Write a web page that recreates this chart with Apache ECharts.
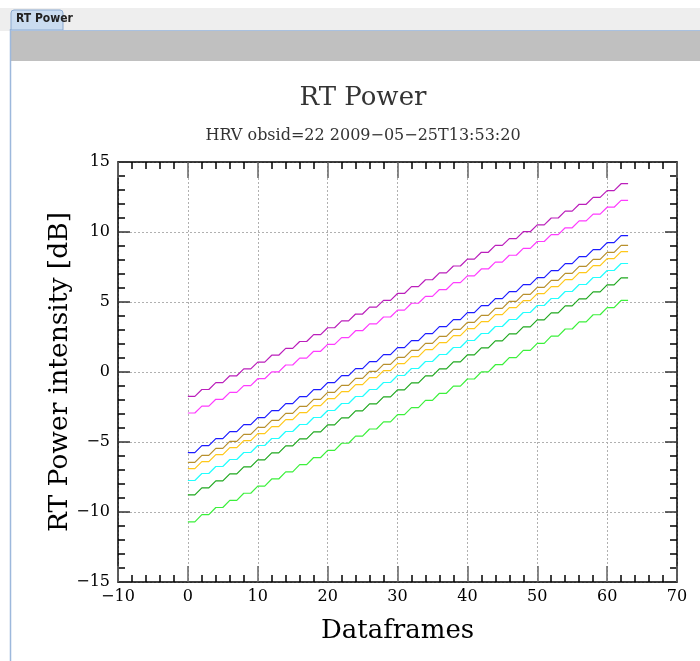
<!DOCTYPE html>
<html>
<head>
<meta charset="utf-8">
<script src="https://cdn.jsdelivr.net/npm/echarts@6/dist/echarts.min.js"></script>
<style>
html,body{margin:0;padding:0;background:#fff;}
#main{width:700px;height:661px;}
</style>
</head>
<body>
<div id="main"></div>
<script>
// dataframe index (x)
var frames = [0,1,2,3,4,5,6,7,8,9,10,11,12,13,14,15,16,17,18,19,20,21,22,23,24,25,26,27,28,29,30,31,
  32,33,34,35,36,37,38,39,40,41,42,43,44,45,46,47,48,49,50,51,52,53,54,55,56,57,58,59,60,61,62,63];

// RT power per channel [dB]
var chMagenta = [-1.74,-1.74,-1.25,-1.25,-0.76,-0.76,-0.27,-0.27,0.22,0.22,0.71,0.71,1.20,1.20,1.69,1.69,
  2.18,2.18,2.67,2.67,3.16,3.16,3.65,3.65,4.14,4.14,4.63,4.63,5.12,5.12,5.61,5.61,
  6.10,6.10,6.59,6.59,7.08,7.08,7.57,7.57,8.06,8.06,8.55,8.55,9.04,9.04,9.53,9.53,
  10.02,10.02,10.51,10.51,11.00,11.00,11.49,11.49,11.98,11.98,12.47,12.47,12.96,12.96,13.45,13.45];
var chPink = [-2.93,-2.93,-2.44,-2.44,-1.95,-1.95,-1.46,-1.46,-0.97,-0.97,-0.48,-0.48,0.01,0.01,0.50,0.50,
  0.99,0.99,1.48,1.48,1.97,1.97,2.46,2.46,2.95,2.95,3.44,3.44,3.93,3.93,4.42,4.42,
  4.91,4.91,5.40,5.40,5.89,5.89,6.38,6.38,6.87,6.87,7.36,7.36,7.85,7.85,8.34,8.34,
  8.83,8.83,9.32,9.32,9.81,9.81,10.30,10.30,10.79,10.79,11.28,11.28,11.77,11.77,12.26,12.26];
var chBlue = [-5.76,-5.76,-5.26,-5.26,-4.76,-4.76,-4.26,-4.26,-3.76,-3.76,-3.26,-3.26,-2.76,-2.76,-2.26,-2.26,
  -1.76,-1.76,-1.26,-1.26,-0.76,-0.76,-0.26,-0.26,0.24,0.24,0.74,0.74,1.24,1.24,1.74,1.74,
  2.24,2.24,2.74,2.74,3.24,3.24,3.74,3.74,4.24,4.24,4.74,4.74,5.24,5.24,5.74,5.74,
  6.24,6.24,6.74,6.74,7.24,7.24,7.74,7.74,8.24,8.24,8.74,8.74,9.24,9.24,9.74,9.74];
var chBrown = [-6.45,-6.45,-5.95,-5.95,-5.45,-5.45,-4.95,-4.95,-4.45,-4.45,-3.95,-3.95,-3.45,-3.45,-2.95,-2.95,
  -2.45,-2.45,-1.95,-1.95,-1.45,-1.45,-0.95,-0.95,-0.45,-0.45,0.05,0.05,0.55,0.55,1.05,1.05,
  1.55,1.55,2.05,2.05,2.55,2.55,3.05,3.05,3.55,3.55,4.05,4.05,4.55,4.55,5.05,5.05,
  5.55,5.55,6.05,6.05,6.55,6.55,7.05,7.05,7.55,7.55,8.05,8.05,8.55,8.55,9.05,9.05];
var chOrange = [-6.9,-6.9,-6.4,-6.4,-5.9,-5.9,-5.4,-5.4,-4.9,-4.9,-4.4,-4.4,-3.9,-3.9,-3.4,-3.4,
  -2.9,-2.9,-2.4,-2.4,-1.9,-1.9,-1.4,-1.4,-0.9,-0.9,-0.4,-0.4,0.1,0.1,0.6,0.6,
  1.1,1.1,1.6,1.6,2.1,2.1,2.6,2.6,3.1,3.1,3.6,3.6,4.1,4.1,4.6,4.6,
  5.1,5.1,5.6,5.6,6.1,6.1,6.6,6.6,7.1,7.1,7.6,7.6,8.1,8.1,8.6,8.6];
var chCyan = [-7.75,-7.75,-7.25,-7.25,-6.75,-6.75,-6.25,-6.25,-5.75,-5.75,-5.25,-5.25,-4.75,-4.75,-4.25,-4.25,
  -3.75,-3.75,-3.25,-3.25,-2.75,-2.75,-2.25,-2.25,-1.75,-1.75,-1.25,-1.25,-0.75,-0.75,-0.25,-0.25,
  0.25,0.25,0.75,0.75,1.25,1.25,1.75,1.75,2.25,2.25,2.75,2.75,3.25,3.25,3.75,3.75,
  4.25,4.25,4.75,4.75,5.25,5.25,5.75,5.75,6.25,6.25,6.75,6.75,7.25,7.25,7.75,7.75];
var chDarkGreen = [-8.78,-8.78,-8.28,-8.28,-7.78,-7.78,-7.28,-7.28,-6.78,-6.78,-6.28,-6.28,-5.78,-5.78,-5.28,-5.28,
  -4.78,-4.78,-4.28,-4.28,-3.78,-3.78,-3.28,-3.28,-2.78,-2.78,-2.28,-2.28,-1.78,-1.78,-1.28,-1.28,
  -0.78,-0.78,-0.28,-0.28,0.22,0.22,0.72,0.72,1.22,1.22,1.72,1.72,2.22,2.22,2.72,2.72,
  3.22,3.22,3.72,3.72,4.22,4.22,4.72,4.72,5.22,5.22,5.72,5.72,6.22,6.22,6.72,6.72];
var chGreen = [-10.70,-10.70,-10.19,-10.19,-9.68,-9.68,-9.17,-9.17,-8.66,-8.66,-8.15,-8.15,-7.64,-7.64,-7.13,-7.13,
  -6.62,-6.62,-6.11,-6.11,-5.60,-5.60,-5.09,-5.09,-4.58,-4.58,-4.07,-4.07,-3.56,-3.56,-3.05,-3.05,
  -2.54,-2.54,-2.03,-2.03,-1.52,-1.52,-1.01,-1.01,-0.50,-0.50,0.01,0.01,0.52,0.52,1.03,1.03,
  1.54,1.54,2.05,2.05,2.56,2.56,3.07,3.07,3.58,3.58,4.09,4.09,4.60,4.60,5.11,5.11];

var channels = [chMagenta, chPink, chBlue, chBrown, chOrange, chCyan, chDarkGreen, chGreen];
var colors = ['#bb1fbb','#ff3cff','#1c1cff','#b8902c','#ffc81a','#22ffff','#1fa81f','#3cf03c'];

var SERIF = '"DejaVu Serif", serif';

function minusFmt(v){
  return String(v).replace('-', '\u2212');
}

var chart = echarts.init(document.getElementById('main'));

var seriesList = [];
for (var i = 0; i < channels.length; i++) {
  var pts = [];
  for (var j = 0; j < frames.length; j++) {
    pts.push([frames[j], channels[i][j]]);
  }
  seriesList.push({
    type: 'line',
    xAxisIndex: 0,
    yAxisIndex: 0,
    data: pts,
    showSymbol: false,
    lineStyle: {width: 1.2, color: colors[i]},
    z: 5
  });
}

// axes: bottom/left with labels, top/right mirrored ticks only
function xAx(pos, labels){
  return {
    type: 'value', position: pos, min: -10, max: 70, interval: 10,
    axisLine: {show: true, onZero: false, lineStyle: {color: '#000', width: 1.5}},
    axisTick: {show: true, inside: true, length: 16, lineStyle: {color: '#666', width: 1.5}},
    minorTick: {show: true, splitNumber: 5, length: 7, lineStyle: {color: '#000', width: 1.5}},
    axisLabel: {show: labels, formatter: minusFmt, color: '#000', fontFamily: SERIF, fontSize: 16, margin: 7},
    splitLine: {show: labels, lineStyle: {color: '#b0b0b0', type: [2, 2], width: 1}},
    name: labels ? 'Dataframes' : '',
    nameLocation: 'middle', nameGap: 36,
    nameTextStyle: {fontFamily: SERIF, fontSize: 26, color: '#000'}
  };
}
function yAx(pos, labels){
  return {
    type: 'value', position: pos, min: -15, max: 15, interval: 5,
    axisLine: {show: true, onZero: false, lineStyle: {color: '#000', width: 1.5}},
    axisTick: {show: true, inside: true, length: 12, lineStyle: {color: '#333', width: 1.5}},
    minorTick: {show: true, splitNumber: 5, length: 7, lineStyle: {color: '#000', width: 1.5}},
    axisLabel: {show: labels, formatter: minusFmt, color: '#000', fontFamily: SERIF, fontSize: 16, margin: 8},
    splitLine: {show: labels, lineStyle: {color: '#b0b0b0', type: [2, 2], width: 1}},
    name: labels ? 'RT Power intensity [dB]' : '',
    nameLocation: 'middle', nameGap: 44, nameMoveOverlap: false,
    nameTextStyle: {fontFamily: SERIF, fontSize: 26.5, color: '#000'}
  };
}

var option = {
  animation: false,
  backgroundColor: '#fff',
  title: [{
    text: 'RT Power', left: 358, top: 80, textAlign: 'center',
    textStyle: {fontFamily: SERIF, fontSize: 26, fontWeight: 'normal', color: '#333'}
  }, {
    text: 'HRV obsid=22 2009\u221205\u221225T13:53:20', left: 358, top: 123, textAlign: 'center',
    textStyle: {fontFamily: SERIF, fontSize: 16, fontWeight: 'normal', color: '#333'}
  }],
  grid: {left: 118, right: 23, top: 162, bottom: 79, containLabel: false},
  xAxis: [xAx('bottom', true), xAx('top', false)],
  yAxis: [yAx('left', true), yAx('right', false)],
  graphic: [
    {type: 'rect', shape: {x: 0, y: 8, width: 700, height: 23}, style: {fill: '#eeeeee'}, z: 100},
    {type: 'rect', shape: {x: 11, y: 10, width: 52, height: 20, r: [3, 3, 0, 0]},
      style: {fill: '#cadcf0', stroke: '#8ba9cf', lineWidth: 1}, z: 101},
    {type: 'text', x: 16, y: 13, style: {text: 'RT Power', font: 'bold 12px "DejaVu Sans Condensed", "DejaVu Sans", sans-serif', fill: '#222'}, z: 102},
    {type: 'rect', shape: {x: 11, y: 30, width: 689, height: 31}, style: {fill: '#c0c0c0'}, z: 100},
    {type: 'line', shape: {x1: 10.5, y1: 29, x2: 10.5, y2: 661}, style: {stroke: '#9db8dc', lineWidth: 1.5}, z: 100},
    {type: 'line', shape: {x1: 11, y1: 30.5, x2: 700, y2: 30.5}, style: {stroke: '#a9c1e0', lineWidth: 1}, z: 101}
  ],
  series: seriesList
};

chart.setOption(option);
</script>
</body>
</html>
